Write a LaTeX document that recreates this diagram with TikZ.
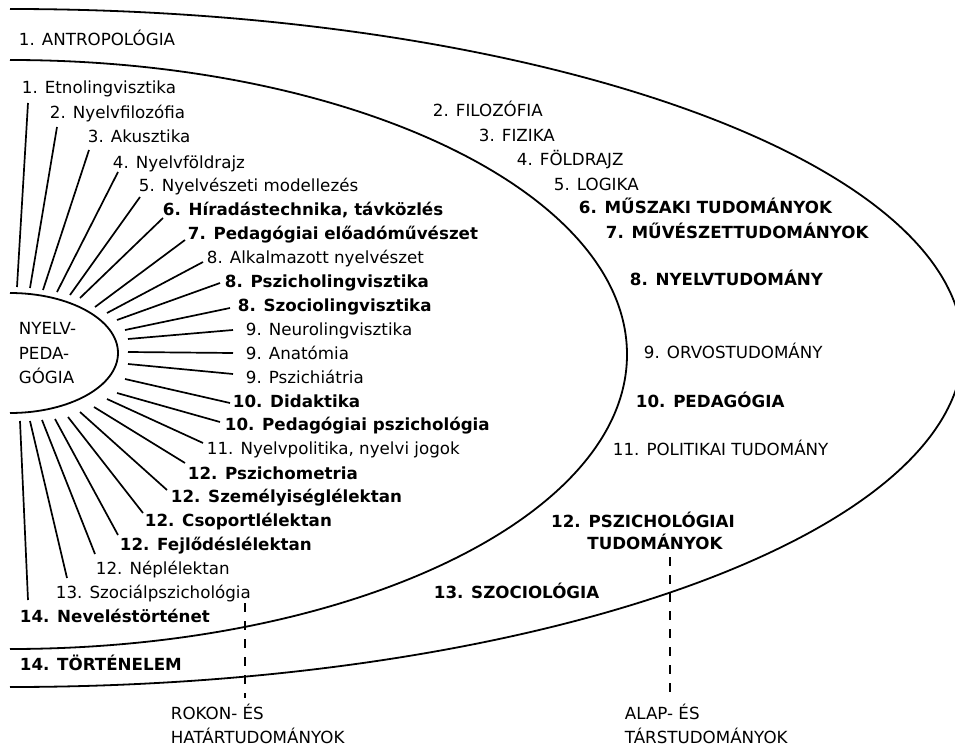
\documentclass[tikz,border=0pt]{standalone}
\usepackage{fontspec}
\setmainfont{DejaVu Sans}
\newcommand\lblfont{\fontsize{16.7}{20}\selectfont}
\begin{document}
\begin{tikzpicture}[x=1pt,y=-1pt,line width=1.8pt,
  lbl/.style={anchor=base west,inner sep=0pt,font=\lblfont},
  blbl/.style={anchor=base west,inner sep=0pt,font=\lblfont\bfseries},
  ray/.style={line width=1.7pt},
  guide/.style={line width=1.8pt,dash pattern=on 9pt off 9pt}]
\useasboundingbox (0,0) rectangle (955,746);
% nested half ellipses
\draw (10,9) arc[start angle=-90,end angle=90,x radius=953,y radius=339];
\draw (10,60) arc[start angle=-90,end angle=90,x radius=617,y radius=294.5];
\draw (10,293) arc[start angle=-90,end angle=90,x radius=108,y radius=60];
% centre
\node[lbl] (c1) at (18,334) {NYELV-};
\node[lbl] (c2) at (18,359) {PEDA-};
\node[lbl] (c3) at (18,383) {GÓGIA};
% left labels
\node[lbl]  (l1)  at (21,94)  {1. Etnolingvisztika};
\node[lbl]  (l2)  at (49,119) {2. Nyelvfilozófia};
\node[lbl]  (l3)  at (87,143) {3. Akusztika};
\node[lbl]  (l4)  at (112,168) {4. Nyelvföldrajz};
\node[lbl]  (l5)  at (138,191) {5. Nyelvészeti modellezés};
\node[blbl] (l6)  at (162,215) {6. Híradástechnika, távközlés};
\node[blbl] (l7)  at (187,239) {7. Pedagógiai előadóművészet};
\node[lbl]  (l8)  at (206,263) {8. Alkalmazott nyelvészet};
\node[blbl] (l9)  at (224,287) {8. Pszicholingvisztika};
\node[blbl] (l10) at (237,311) {8. Szociolingvisztika};
\node[lbl]  (l11) at (245,335) {9. Neurolingvisztika};
\node[lbl]  (l12) at (245,359) {9. Anatómia};
\node[lbl]  (l13) at (245,383) {9. Pszichiátria};
\node[blbl] (l14) at (232,407) {10. Didaktika};
\node[blbl] (l15) at (224,430) {10. Pedagógiai pszichológia};
\node[lbl]  (l16) at (206,454) {11. Nyelvpolitika, nyelvi jogok};
\node[blbl] (l17) at (187,479) {12. Pszichometria};
\node[blbl] (l18) at (170,502) {12. Személyiséglélektan};
\node[blbl] (l19) at (144,526) {12. Csoportlélektan};
\node[blbl] (l20) at (119,550) {12. Fejlődéslélektan};
\node[lbl]  (l21) at (95,574)  {12. Néplélektan};
\node[lbl]  (l22) at (55,598)  {13. Szociálpszichológia};
\node[blbl] (l23) at (19,622)  {14. Neveléstörténet};
% rays
\foreach \i/\sx/\sy/\ex/\ey in {
  1/17/287/28/103, 2/30/288/57/127, 3/43/290/89/150, 4/57/292/118/172,
  5/70/295/140/197, 6/80/298/163/218, 7/95/307/185/240, 8/107/313/203/262,
  9/117/320/220/283, 10/125/330/230/308, 11/128/339/233/330, 12/128/352/233/353,
  13/128/364/233/374, 14/125/379/230/403, 15/117/393/220/422, 16/107/399/203/443,
  17/94/407/185/463, 18/80/412/167/490, 19/68/417/143/513, 20/55/419/118/535,
  21/42/420/95/554, 22/30/421/67/578, 23/20/421/28/600}{
  \coordinate (rs\i) at (\sx,\sy);
  \coordinate (re\i) at (\ex,\ey);
  \draw[ray] (rs\i) -- (re\i);
}
% outer labels
\node[lbl]  (o1)  at (18,46)   {1. ANTROPOLÓGIA};
\node[lbl]  (o2)  at (432,117) {2. FILOZÓFIA};
\node[lbl]  (o3)  at (478,142) {3. FIZIKA};
\node[lbl]  (o4)  at (516,166) {4. FÖLDRAJZ};
\node[lbl]  (o5)  at (553,190) {5. LOGIKA};
\node[blbl] (o6)  at (578,214) {6. MŰSZAKI TUDOMÁNYOK};
\node[blbl] (o7)  at (605,238) {7. MŰVÉSZETTUDOMÁNYOK};
\node[blbl] (o8)  at (629,285) {8. NYELVTUDOMÁNY};
\node[lbl]  (o9)  at (643,358) {9. ORVOSTUDOMÁNY};
\node[blbl] (o10) at (635,407) {10. PEDAGÓGIA};
\node[lbl]  (o11) at (612,455) {11. POLITIKAI TUDOMÁNY};
\node[blbl,anchor=base] (o12a) at (643,527) {12. PSZICHOLÓGIAI};
\node[blbl,anchor=base] (o12b) at (655,549) {TUDOMÁNYOK};
\node[blbl] (o13) at (433,598) {13. SZOCIOLÓGIA};
\node[blbl] (o14) at (19,670)  {14. TÖRTÉNELEM};
% category labels
\node[lbl] (k1a) at (170,719) {ROKON- ÉS};
\node[lbl] (k1b) at (170,743) {HATÁRTUDOMÁNYOK};
\node[lbl] (k2a) at (624,719) {ALAP- ÉS};
\node[lbl] (k2b) at (624,743) {TÁRSTUDOMÁNYOK};
% dashed guides
\coordinate (g1a) at (245,603);
\coordinate (g1b) at (245,698);
\coordinate (g2a) at (670,557);
\coordinate (g2b) at (670,698);
\draw[guide] (g1a) -- (g1b);
\draw[guide] (g2a) -- (g2b);
\end{tikzpicture}
\end{document}
